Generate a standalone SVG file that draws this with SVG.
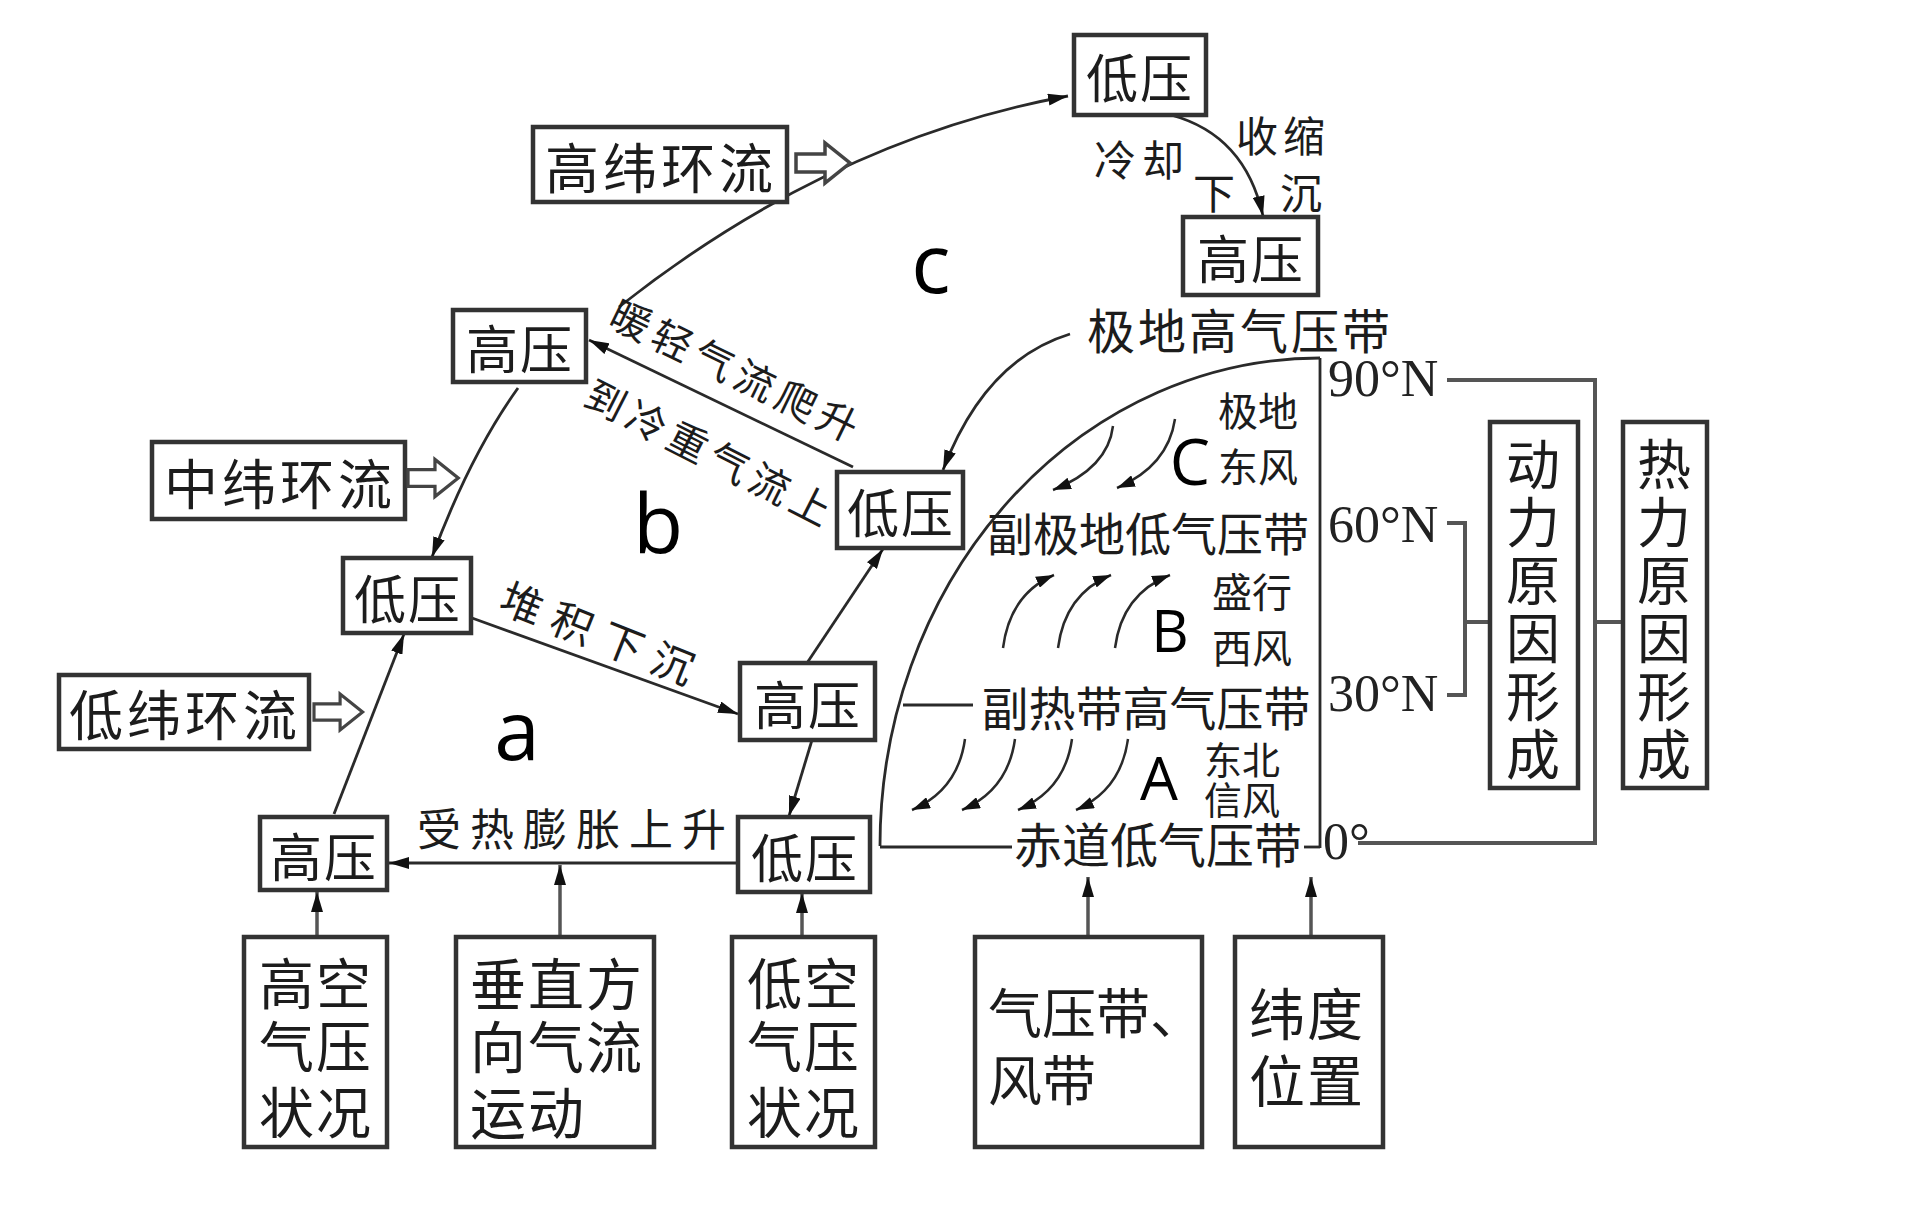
<svg xmlns="http://www.w3.org/2000/svg" width="1918" height="1208" viewBox="0 0 1918 1208">
<style>
.bx{fill:#fff;stroke:#333;stroke-width:4.5}
.cj{font-family:"Noto Sans CJK SC","Noto Sans CJK TC",sans-serif;fill:#1c1c1c;dominant-baseline:central;text-anchor:middle}
.cl{font-family:"Noto Sans CJK SC","Noto Sans CJK TC",sans-serif;fill:#1c1c1c;dominant-baseline:central}
.cv{font-family:"Noto Sans CJK SC","Noto Sans CJK TC",sans-serif;fill:#1c1c1c;writing-mode:vertical-rl;text-anchor:start}
.lt{font-family:"Open Sans","Noto Sans",sans-serif;fill:#000;text-anchor:middle}
.deg{font-family:"Liberation Serif",serif;fill:#222;dominant-baseline:central}
.ln{fill:none;stroke:#2a2a2a;stroke-width:2.8}
.lnA{fill:none;stroke:#2a2a2a;stroke-width:2.8;marker-end:url(#ah)}
.lnB{fill:none;stroke:#555;stroke-width:3.5;marker-end:url(#ah)}
.wd{fill:none;stroke:#2a2a2a;stroke-width:2.5;marker-end:url(#aw)}
.br{fill:none;stroke:#555;stroke-width:4}
.ho{fill:#fff;stroke:#444;stroke-width:3.5}
</style>
<defs>
<marker id="ah" viewBox="0 0 20 12" refX="20" refY="6" markerWidth="20" markerHeight="12" markerUnits="userSpaceOnUse" orient="auto"><path d="M0,0 L20,6 L0,12 Z" fill="#111"/></marker>
<marker id="aw" viewBox="0 0 18 12" refX="18" refY="6" markerWidth="18" markerHeight="12" markerUnits="userSpaceOnUse" orient="auto"><path d="M0,0 L18,6 L0,12 Z" fill="#111"/></marker>
<path id="hollow" d="M0,-9 H29 V-20 L54,0 L29,20 V9 H0 Z"/>
</defs>
<rect width="1918" height="1208" fill="#fff"/>

<g id="connectors">
  <path class="lnA" d="M1171,115 Q1245,135 1263,216"/>
  <path class="lnA" d="M619,307 Q830,140 1068,96"/>
  <path class="lnA" d="M853,467 L589,340"/>
  <path class="lnA" d="M518,388 Q470,455 432,557"/>
  <path class="lnA" d="M472,618 L738,714"/>
  <path class="lnA" d="M334,814 L404,634"/>
  <path class="lnA" d="M807,663 L883,549"/>
  <path class="lnA" d="M812,740 L789,816"/>
  <path class="lnA" d="M738,863 L389,863"/>
  <path class="lnA" d="M1070,334 Q985,360 943,470"/>
  <path class="lnB" d="M317,937 L317,892"/>
  <path class="lnB" d="M560,937 L560,865"/>
  <path class="lnB" d="M802,937 L802,893"/>
  <path class="lnB" d="M1088,937 L1088,877"/>
  <path class="lnB" d="M1311,937 L1311,877"/>
  <path class="wd" d="M1113,426 Q1108,468 1053,490"/>
  <path class="wd" d="M1175,419 Q1168,466 1117,488"/>
  <path class="wd" d="M1003,648 Q1010,594 1054,575"/>
  <path class="wd" d="M1058,648 Q1065,594 1111,575"/>
  <path class="wd" d="M1115,648 Q1122,594 1170,575"/>
  <path class="wd" d="M965,739 Q958,790 912,810"/>
  <path class="wd" d="M1015,739 Q1008,790 962,810"/>
  <path class="wd" d="M1072,739 Q1065,790 1018,810"/>
  <path class="wd" d="M1128,739 Q1121,790 1076,810"/>
</g>

<g id="zone-chart">
  <path class="ln" d="M1320,358 A440,488 0 0 0 880,846"/>
  <path class="ln" d="M1320,358 L1320,848" stroke-width="4"/>
  <path class="ln" d="M880,847 L1012,847" stroke-width="4"/>
  <path class="ln" d="M1304,847 L1320,847" stroke-width="4"/>
  <path class="ln" d="M903,705 L973,705"/>
  <text class="cj" x="1240" y="328" font-size="48" letter-spacing="3">极地高气压带</text>
  <text class="cj" x="1148" y="531" font-size="46">副极地低气压带</text>
  <text class="cj" x="1146" y="705" font-size="47">副热带高气压带</text>
  <text class="cj" x="1158" y="842" font-size="48">赤道低气压带</text>
  <text class="cj" x="1258" y="409" font-size="40">极地</text>
  <text class="cj" x="1258" y="465" font-size="40">东风</text>
  <text class="cj" x="1252" y="590" font-size="40">盛行</text>
  <text class="cj" x="1252" y="646" font-size="40">西风</text>
  <text class="cj" x="1242" y="757" font-size="38">东北</text>
  <text class="cj" x="1242" y="797" font-size="38">信风</text>
  <text class="lt" x="1190" y="485" font-size="64">C</text>
  <text class="lt" x="1170" y="652" font-size="58">B</text>
  <text class="lt" x="1159" y="800" font-size="60">A</text>
  <text class="deg" x="1328" y="378" font-size="52">90°N</text>
  <text class="deg" x="1328" y="524" font-size="52">60°N</text>
  <text class="deg" x="1328" y="693" font-size="52">30°N</text>
  <text class="deg" x="1323" y="841" font-size="52">0°</text>
  <path class="br" d="M1447,380 H1595 V843 H1358"/>
  <path class="br" d="M1595,622 H1623"/>
  <path class="br" d="M1447,523 H1465 V695 H1447"/>
  <path class="br" d="M1465,622 H1490"/>
</g>

<g id="labels">
  <text class="cj" x="1142" y="157" font-size="42" letter-spacing="6">冷却</text>
  <text class="cj" x="1283" y="133" font-size="42" letter-spacing="5">收缩</text>
  <text class="cj" x="1214" y="190" font-size="42">下</text>
  <text class="cj" x="1301" y="190" font-size="42">沉</text>
  <text class="cj" x="576" y="827" font-size="44" letter-spacing="9">受热膨胀上升</text>
  <text class="cj" font-size="42" letter-spacing="12" transform="translate(604,633) rotate(21.7)">堆积下沉</text>
  <text class="cj" font-size="40" letter-spacing="6" transform="translate(738,370) rotate(26)">暖轻气流爬升</text>
  <text class="cj" font-size="40" letter-spacing="6" transform="translate(712,452) rotate(27)">到冷重气流上</text>
  <text class="lt" x="931" y="293" font-size="82">c</text>
  <text class="lt" x="658" y="553" font-size="82">b</text>
  <text class="lt" x="517" y="760" font-size="82">a</text>
</g>

<g id="n-low-top"><rect class="bx" x="1074" y="35" width="132" height="80"/><text class="cj" x="1140" y="75" font-size="52" letter-spacing="2">低压</text></g>
<g id="n-high-top"><rect class="bx" x="1183" y="217" width="135" height="78"/><text class="cj" x="1251" y="256" font-size="52" letter-spacing="2">高压</text></g>
<g id="n-high-lat"><rect class="bx" x="533" y="127" width="254" height="75"/><text class="cj" x="661" y="165" font-size="54" letter-spacing="4">高纬环流</text><use href="#hollow" class="ho" transform="translate(796,163)"/></g>
<g id="n-high-mid"><rect class="bx" x="453" y="310" width="133" height="72"/><text class="cj" x="520" y="346" font-size="52" letter-spacing="2">高压</text></g>
<g id="n-mid-lat"><rect class="bx" x="152" y="442" width="253" height="77"/><text class="cj" x="280" y="481" font-size="54" letter-spacing="4">中纬环流</text><use href="#hollow" class="ho" transform="translate(408,478) scale(0.93)"/></g>
<g id="n-low-left"><rect class="bx" x="343" y="558" width="128" height="75"/><text class="cj" x="408" y="596" font-size="52" letter-spacing="2">低压</text></g>
<g id="n-low-mid"><rect class="bx" x="837" y="472" width="126" height="76"/><text class="cj" x="901" y="510" font-size="52" letter-spacing="2">低压</text></g>
<g id="n-high-center"><rect class="bx" x="740" y="663" width="135" height="77"/><text class="cj" x="808" y="702" font-size="52" letter-spacing="2">高压</text></g>
<g id="n-low-lat"><rect class="bx" x="59" y="675" width="250" height="74"/><text class="cj" x="185" y="712" font-size="54" letter-spacing="4">低纬环流</text><use href="#hollow" class="ho" transform="translate(314,712) scale(0.9)"/></g>
<g id="n-high-bottom"><rect class="bx" x="260" y="817" width="127" height="73"/><text class="cj" x="324" y="854" font-size="52" letter-spacing="2">高压</text></g>
<g id="n-low-bottom"><rect class="bx" x="738" y="817" width="132" height="75"/><text class="cj" x="805" y="855" font-size="52" letter-spacing="2">低压</text></g>

<g id="n-upper-pressure"><rect class="bx" x="244" y="937" width="143" height="210"/>
<text class="cj" x="316" y="980" font-size="55" letter-spacing="2">高空</text><text class="cj" x="316" y="1043" font-size="55" letter-spacing="2">气压</text><text class="cj" x="316" y="1109" font-size="55" letter-spacing="2">状况</text></g>
<g id="n-vertical-flow"><rect class="bx" x="456" y="937" width="198" height="210"/>
<text class="cl" x="470" y="980" font-size="56" letter-spacing="2">垂直方</text><text class="cl" x="470" y="1043" font-size="56" letter-spacing="2">向气流</text><text class="cl" x="470" y="1109" font-size="56" letter-spacing="2">运动</text></g>
<g id="n-lower-pressure"><rect class="bx" x="732" y="937" width="143" height="210"/>
<text class="cj" x="804" y="980" font-size="55" letter-spacing="2">低空</text><text class="cj" x="804" y="1043" font-size="55" letter-spacing="2">气压</text><text class="cj" x="804" y="1109" font-size="55" letter-spacing="2">状况</text></g>
<g id="n-belts"><rect class="bx" x="975" y="937" width="227" height="210"/>
<text class="cl" x="988" y="1010" font-size="54">气压带、</text><text class="cl" x="988" y="1077" font-size="54">风带</text></g>
<g id="n-latitude"><rect class="bx" x="1235" y="937" width="148" height="210"/>
<text class="cj" x="1307" y="1010" font-size="56" letter-spacing="2">纬度</text><text class="cj" x="1307" y="1077" font-size="56" letter-spacing="2">位置</text></g>

<g id="n-dynamic"><rect class="bx" x="1490" y="422" width="88" height="366"/>
<text class="cv" x="1533" y="437" font-size="54" letter-spacing="4">动力原因形成</text></g>
<g id="n-thermal"><rect class="bx" x="1623" y="422" width="84" height="366"/>
<text class="cv" x="1664" y="437" font-size="54" letter-spacing="4">热力原因形成</text></g>
</svg>
